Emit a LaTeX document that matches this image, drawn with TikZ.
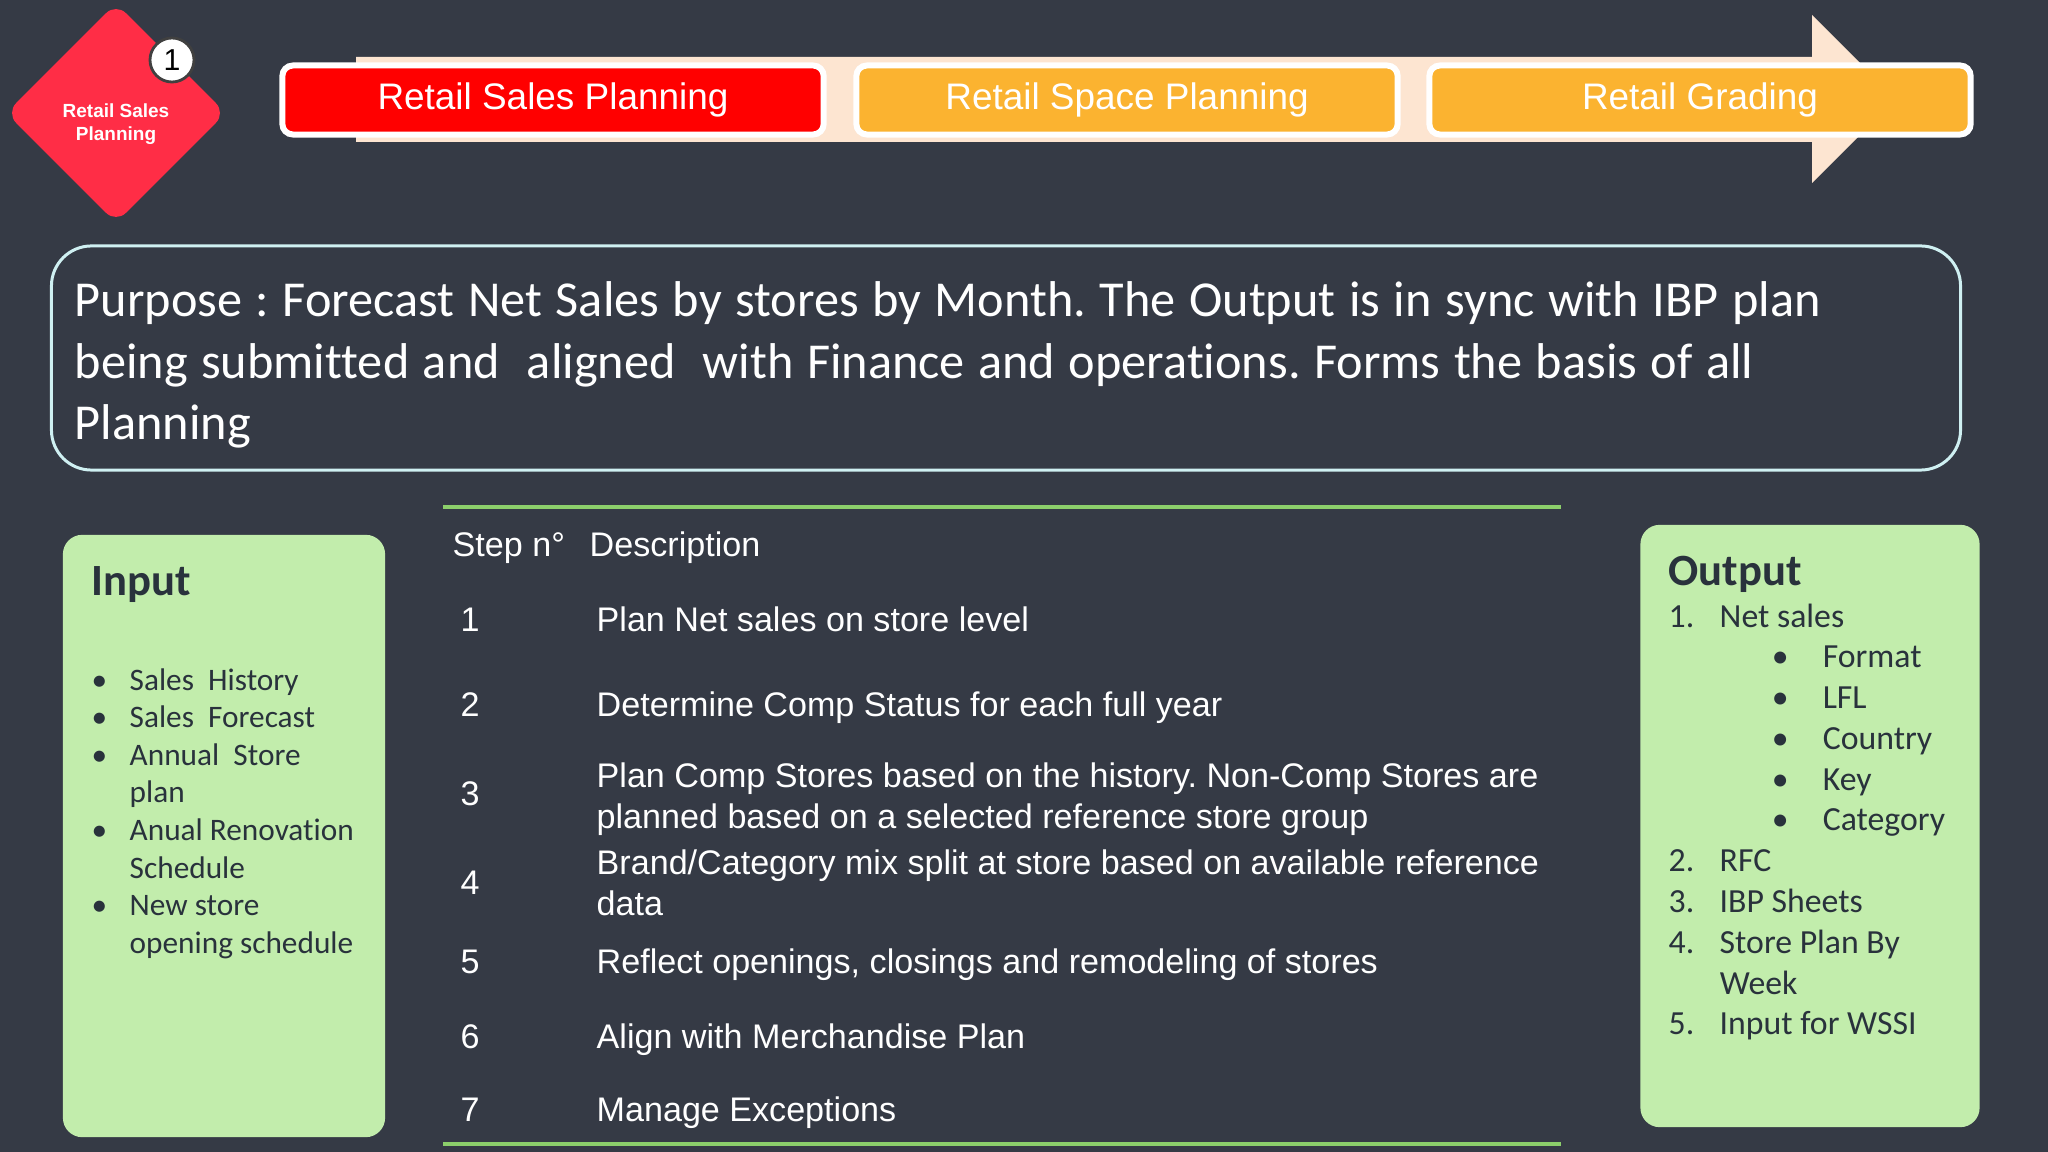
\documentclass[tikz,border=0pt]{standalone}
\usepackage{fontspec}
\setmainfont{Liberation Sans}
\newfontfamily\carlito[Ligatures=NoCommon]{Carlito}
\usetikzlibrary{shapes.geometric}

\definecolor{slate}{HTML}{353A45}
\definecolor{diared}{HTML}{FF2D46}
\definecolor{barred}{HTML}{FF0000}
\definecolor{barorange}{HTML}{FBB330}
\definecolor{arrowbeige}{HTML}{FDE5D1}
\definecolor{boxgreen}{HTML}{C2EDAC}
\definecolor{ink}{HTML}{29323C}
\definecolor{rimcyan}{HTML}{CFF0F2}
\definecolor{linegreen}{HTML}{8CCF6B}

\newcommand{\inbul}{\makebox[0.38cm][l]{\textbullet}}
\newcommand{\inind}{\hspace*{0.38cm}}
\newcommand{\outnum}[1]{\makebox[0.51cm][l]{#1}}
\newcommand{\outbul}{\hspace*{1.03cm}\makebox[0.51cm][l]{\textbullet}}

\begin{document}
\frenchspacing
\begin{tikzpicture}[x=0.01cm,y=-0.01cm]
  \tikzset{phase/.style={draw=white,line width=1.7pt,rounded corners=3pt,minimum width=5.41cm,minimum height=0.69cm,text=white,font=\fontsize{10.5}{12}\selectfont},
    greenbox/.style={fill=boxgreen,rounded corners=5.5pt},
    tablerule/.style={linegreen,line width=1.1pt},
    steptxt/.style={anchor=base west,inner sep=0pt,text width=11cm,align=flush left,text=white,font=\fontsize{9.7}{11.7}\selectfont},
    boxtxt/.style={anchor=base west,inner sep=0pt,text width=3.2cm,align=flush left,text=ink}}
  \useasboundingbox (0,0) rectangle (2048,1152);
  \fill[slate] (0,0) rectangle (2048,1152);

  % stage marker
  \node[diamond,fill=diared,rounded corners=4pt,minimum size=2.2cm] (stage) at (116,113) {};
  \node[text=white,font=\bfseries\fontsize{5.4}{6.5}\selectfont,align=center] (stagetxt) at (116,124) {Retail Sales\\Planning};
  \node[circle,fill=white,draw=black!75,line width=0.8pt,minimum size=0.44cm,inner sep=0pt,font=\fontsize{8.6}{10}\selectfont] (badge) at (172,60) {1};

  % process arrow
  \fill[arrowbeige] (356,57) -- (1812,57) -- (1812,15) -- (1896,99) -- (1812,183) -- (1812,142) -- (356,142) -- cycle;
  \node[phase,fill=barred] (sales) at (553,100) {Retail Sales Planning};
  \node[phase,fill=barorange] (space) at (1127,100) {Retail Space Planning};
  \node[phase,fill=barorange] (grading) at (1700,100) {Retail Grading};

  % purpose
  \node[draw=rimcyan,line width=0.85pt,rounded corners=0.4cm,minimum width=19.08cm,minimum height=2.24cm] (purposebox) at (1006,358) {};
  \node[anchor=base west,inner sep=0pt,text width=18.8cm,align=flush left,text=white,font={\carlito\fontsize{14.3}{17.4}\selectfont\spaceskip=0.27em\relax}] (purpose) at (74,317) {Purpose : Forecast Net Sales by stores by Month. The Output is in sync with IBP plan\\being submitted and~ aligned~ with Finance and operations. Forms the basis of all\\Planning};

  % input
  \node[greenbox,minimum width=3.22cm,minimum height=6.02cm] (inbox) at (224,836) {};
  \node[boxtxt,font=\carlito\bfseries\fontsize{12.7}{15}\selectfont] (intitle) at (91,595) {Input};
  \node[boxtxt,font=\carlito\fontsize{8.9}{10.7}\selectfont] (inlist) at (91,690) {\inbul Sales~ History\\\inbul Sales~ Forecast\\\inbul Annual~ Store\\\inind plan\\\inbul Anual Renovation\\\inind Schedule\\\inbul New store\\\inind opening schedule};

  % output
  \node[greenbox,minimum width=3.39cm,minimum height=6.02cm] (outbox) at (1810,826) {};
  \node[boxtxt,font=\carlito\bfseries\fontsize{12.7}{15}\selectfont] (outtitle) at (1668,585) {Output};
  \node[boxtxt,font=\carlito\fontsize{9.6}{11.6}\selectfont] (outlist) at (1668,627) {\outnum{1.}Net sales\\\outbul Format\\\outbul LFL\\\outbul Country\\\outbul Key\\\outbul Category\\\outnum{2.}RFC\\\outnum{3.}IBP Sheets\\\outnum{4.}Store Plan By\\\outnum{}Week\\\outnum{5.}Input for WSSI};

  % steps table
  \draw[tablerule] (443,507) -- (1561,507);
  \draw[tablerule] (443,1144) -- (1561,1144);
  \node[anchor=base west,inner sep=0pt,text=white,font=\fontsize{9.7}{11.7}\selectfont] (hdrstep) at (452,557) {Step n°};
  \node[anchor=base west,inner sep=0pt,text=white,font=\fontsize{9.7}{11.7}\selectfont] (hdrdesc) at (589,557) {Description};
  \foreach \n/\yn/\yt/\txt in {1/632/632/{Plan Net sales on store level},
      2/716/716/{Determine Comp Status for each full year},
      3/805/787/{Plan Comp Stores based on the history. Non-Comp Stores are\\planned based on a selected reference store group},
      4/894/874/{Brand/Category mix split at store based on available reference\\data},
      5/973/973/{Reflect openings, closings and remodeling of stores},
      6/1048/1048/{Align with Merchandise Plan},
      7/1121/1121/{Manage Exceptions}}
  {
    \node[steptxt,text width=1cm] (num\n) at (460,\yn) {\n};
    \node[steptxt] (desc\n) at (596,\yt) {\txt};
  }
\end{tikzpicture}
\end{document}
